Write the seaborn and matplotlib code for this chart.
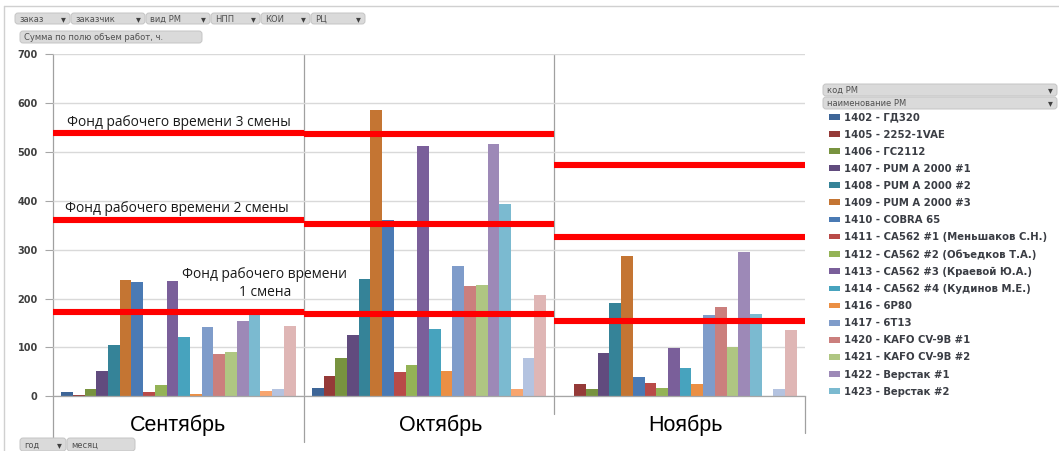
import numpy as np
import pandas as pd
import matplotlib
matplotlib.use("Agg")
import matplotlib.pyplot as plt
import matplotlib.patches as mpatches
from matplotlib.lines import Line2D
from matplotlib.transforms import Affine2D
import seaborn as sns

# ---- data -----------------------------------------------------------------
months = ["Сентябрь", "Октябрь", "Ноябрь"]

machines = [
    "1402 - ГД320", "1405 - 2252-1VAE", "1406 - ГС2112", "1407 - PUM A 2000 #1",
    "1408 - PUM A 2000 #2", "1409 - PUM A 2000 #3", "1410 - COBRA 65",
    "1411 - СА562 #1 (Меньшаков С.Н.)", "1412 - СА562 #2 (Объедков Т.А.)",
    "1413 - СА562 #3 (Краевой Ю.А.)", "1414 - СА562 #4 (Кудинов М.Е.)",
    "1416 - 6Р80", "1417 - 6Т13", "1420 - KAFO CV-9B #1", "1421 - KAFO CV-9B #2",
    "1422 - Верстак #1", "1423 - Верстак #2", "1424", "1425", "1426",
]

hours_sep = [8, 3, 14, 52, 104, 239, 234, 9, 23, 236, 121, 5, 141, 87, 91, 154, 167, 10, 14, 143]
hours_oct = [17, 41, 78, 126, 241, 586, 361, 49, 65, 512, 137, 52, 266, 226, 227, 516, 393, 14, 78, 208]
hours_nov = [0, 25, 15, 89, 190, 287, 40, 28, 16, 98, 57, 26, 166, 183, 100, 296, 168, 0, 14, 135]

# working-time fund per month for 1, 2 and 3 shifts
fund_1 = [173, 168, 155]
fund_2 = [361, 353, 326]
fund_3 = [538, 536, 473]

y_ticks = [0, 100, 200, 300, 400, 500, 600, 700]

colors = [
    "#3d6597", "#953a38", "#78933f", "#614b7e", "#358398", "#c47533", "#4a7ab4",
    "#b94a48", "#94b356", "#7a5f9a", "#47a3be", "#eb8f44", "#7f9cca", "#cb7f7d",
    "#afc682", "#9d89b7", "#7bbad0", "#f8a56e", "#b4c3e0", "#dfb6b5",
]

df = pd.DataFrame({
    "месяц": np.repeat(months, len(machines)),
    "код РМ": machines * len(months),
    "часы": hours_sep + hours_oct + hours_nov,
})

# ---- figure ---------------------------------------------------------------
sns.set_style("white")
plt.rcParams["font.family"] = ["DejaVu Sans"]

W, H = 1059, 451
fig = plt.figure(figsize=(W / 100, H / 100), dpi=100)
px = Affine2D().scale(1 / W, -1 / H).translate(0, 1) + fig.transFigure

ax_left, ax_right, ax_top, ax_bottom = 53, 805, 54.3, 396.3
ax = fig.add_axes([ax_left / W, 1 - ax_bottom / H,
                   (ax_right - ax_left) / W, (ax_bottom - ax_top) / H])

sns.barplot(data=df, x="месяц", y="часы", hue="код РМ", palette=colors,
            width=0.935, gap=0, saturation=1, linewidth=0, legend=False, ax=ax)

ax.set_xlim(-0.5, 2.5)
ax.set_ylim(0, 700)
ax.set_yticks(y_ticks)
ax.set_yticklabels([str(t) for t in y_ticks], fontsize=7, fontweight="bold",
                   color="#404040")
ax.tick_params(axis="y", direction="out", length=6, width=0.8, color="#a6a6a6", pad=5,
               left=True)
ax.tick_params(axis="x", bottom=False, labelbottom=False)
ax.set_xlabel("")
ax.set_ylabel("")
ax.yaxis.grid(True, color="#d9d9d9", lw=1)
ax.set_axisbelow(True)
for s in ["top", "right", "left"]:
    ax.spines[s].set_visible(False)
ax.spines["bottom"].set_color("#a6a6a6")
ax.spines["bottom"].set_linewidth(0.9)

# category boundaries, running down through the label area
xt = ax.get_xaxis_transform()
for xb, yb in [(-0.5, -0.13), (0.5, -0.135), (1.5, -0.053), (2.5, -0.108)]:
    top = 1.0 if xb < 2 else 0.0
    ax.plot([xb, xb], [yb, top], transform=xt, color="#a0a0a0", lw=0.9,
            clip_on=False, zorder=0.5)

# month labels
month_dx = [0.0, 0.045, 0.025]
for i, (m, dx) in enumerate(zip(months, month_dx)):
    ax.text(i + dx, -0.085, m, transform=xt, ha="center", va="center",
            fontsize=15.5, family="Liberation Sans", color="black")

# working-time fund lines
for i in range(len(months)):
    for lvl in (fund_1[i], fund_2[i], fund_3[i]):
        ax.plot([i - 0.5, i + 0.5], [lvl, lvl], color="#ff0000", lw=4.4,
                solid_capstyle="butt", zorder=5, clip_on=False)

ann_font = dict(family="Open Sans", fontsize=9.9, color="#1a1a1a")
fig.text(67, 122, "Фонд рабочего времени 3 смены", transform=px, ha="left",
         va="center", **ann_font)
fig.text(65, 208, "Фонд рабочего времени 2 смены", transform=px, ha="left",
         va="center", **ann_font)
fig.text(265, 283.5, "Фонд рабочего времени\n1 смена", transform=px, ha="center",
         va="center", multialignment="center", linespacing=1.3, **ann_font)

# ---- legend ---------------------------------------------------------------
n_shown = 17
handles = [mpatches.Patch(facecolor=c, edgecolor="none") for c in colors[:n_shown]]
leg = ax.legend(handles, machines[:n_shown], loc="upper left",
                bbox_to_anchor=(829 / W, 1 - 112.5 / H), bbox_transform=fig.transFigure,
                frameon=False, prop=dict(family="DejaVu Sans", weight="bold", size=7.3),
                labelcolor="#3a3d44", handlelength=1.1, handleheight=0.5,
                handletextpad=0.35, labelspacing=0.70, borderpad=0, borderaxespad=0)

# ---- pivot field buttons ----------------------------------------------------
def button(x0, y0, x1, y1, label, arrow=True, fs=6):
    fig.patches.append(mpatches.FancyBboxPatch(
        (x0, y0), x1 - x0, y1 - y0, boxstyle="round,pad=0,rounding_size=3",
        transform=px, facecolor="#dadada", edgecolor="#c4c4c4", lw=0.7))
    fig.text(x0 + 4, (y0 + y1) / 2 + 0.5, label, transform=px, ha="left",
             va="center", fontsize=fs, color="#505050")
    if arrow:
        fig.text(x1 - 7, (y0 + y1) / 2 + 0.5, "▾", transform=px, ha="center",
                 va="center", fontsize=7, color="#404040")

# outer frame
fig.add_artist(Line2D([4, W], [6, 6], transform=px, color="#d0d0d0", lw=1))
fig.add_artist(Line2D([4, 4], [6, H], transform=px, color="#d0d0d0", lw=1))

for x0, x1, lab in [(15, 70, "заказ"), (71, 145, "заказчик"), (146, 210, "вид РМ"),
                    (211, 260, "НПП"), (261, 310, "КОИ"), (311, 365, "РЦ")]:
    button(x0, 13, x1, 24, lab)
button(20, 31, 202, 43, "Сумма по полю объем работ, ч.", arrow=False)
button(823, 84, 1057, 96, "код РМ")
button(823, 97, 1057, 109, "наименование РМ")
button(20, 438, 66, 451, "год")
button(67, 438, 135, 451, "месяц", arrow=False)

fig.savefig("out.png", dpi=100)
